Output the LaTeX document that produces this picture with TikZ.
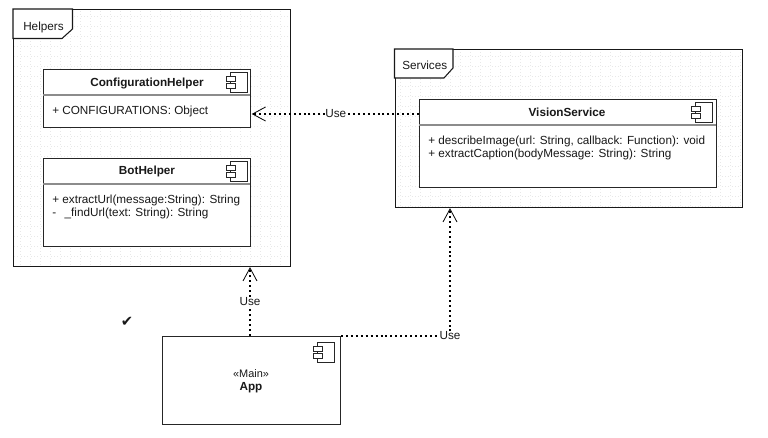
\documentclass[tikz,border=0pt]{standalone}
\usepackage{fontspec}
\setmainfont{Liberation Sans}
\newfontfamily\symfont{DejaVu Sans}
\def\px{0.75pt}
\tikzset{
  every node/.style={font=\fontsize{8.8pt}{10pt}\selectfont,text=black!90},
  pkg/.style={draw=black!90,line width=0.8pt,anchor=north west,inner sep=0pt},
  cbox/.style={draw=black!85,line width=0.8pt,fill=white,anchor=north west,inner sep=0pt},
  divider/.style={draw=black!45,line width=0.8pt},
  icon/.style={draw=black!85,line width=0.6pt,fill=white},
  title/.style={font=\fontsize{8.8pt}{10pt}\selectfont\bfseries,inner sep=0pt},
  member/.style={anchor=west,inner sep=0pt,align=left},
  useline/.style={draw=black,line width=0.85pt,dash pattern=on 1.5pt off 2.2pt},
  usetip/.style={draw=black,line width=0.6pt},
  uselabel/.style={fill=white,inner sep=0.3pt},
  tab/.style={draw=black!90,line width=0.8pt,fill=white,line join=miter},
  faintgrid/.style={draw=black!9,line width=0.5pt,dotted},
}
\newcommand{\compicon}[2]{%
  \draw[icon] (#1+4,#2) rectangle (#1+21,#2+20);
  \draw[icon] (#1,#2+4) rectangle (#1+9,#2+9);
  \draw[icon] (#1,#2+11) rectangle (#1+9,#2+16);
}
\begin{document}
\begin{tikzpicture}[x=0.75pt,y=-0.75pt]
\useasboundingbox (0,0) rectangle (768,438);
% Packages
\draw[faintgrid,step=7.5pt,shift={(0,6)}] (14,4) grid (289,259);
\node[pkg,minimum width=277*\px,minimum height=257*\px] (helpers) at (13,9) {};
\draw[tab] (13,9) -- (72.5,9) -- (72.5,29) -- (62,38.5) -- (13,38.5) -- cycle;
\node[anchor=west,inner sep=0pt] (helperslabel) at (23,27) {Helpers};

\draw[faintgrid,step=7.5pt,shift={(0,6)}] (395,44) grid (741,200);
\node[pkg,minimum width=347*\px,minimum height=158*\px] (services) at (394.5,49) {};
\draw[tab] (394.5,49) -- (453,49) -- (453,68) -- (444,78) -- (394.5,78) -- cycle;
\node[anchor=west,inner sep=0pt] (serviceslabel) at (402,65.5) {Services};

% ConfigurationHelper
\node[cbox,minimum width=207*\px,minimum height=58*\px] (config) at (43,69) {};
\draw[divider] (43,95) -- (250,95);
\node[title] (configtitle) at (147,83) {ConfigurationHelper};
\node[member] (configm) at (52,111) {+ CONFIGURATIONS: Object};
\compicon{226}{72}

% BotHelper
\node[cbox,minimum width=207*\px,minimum height=88*\px] (bot) at (43,158) {};
\draw[divider] (43,184) -- (250,184);
\node[title] (bottitle) at (147,171) {BotHelper};
\node[member] (botm) at (52,207) {+ extractUrl(message:String): String\\-\ \ \,\_findUrl(text: String): String};
\compicon{226}{161}

% VisionService
\node[cbox,minimum width=297*\px,minimum height=88*\px] (vision) at (419,99) {};
\draw[divider] (419,125) -- (716,125);
\node[title] (visiontitle) at (567,112) {VisionService};
\node[member] (visionm) at (428,148) {+ describeImage(url: String, callback: Function): void\\+ extractCaption(bodyMessage: String): String};
\compicon{691}{102}

% App
\node[cbox,minimum width=178*\px,minimum height=88*\px] (app) at (162,336) {};
\node[align=center,inner sep=0pt] (apptext) at (251,381) {{\fontsize{8.2pt}{10pt}\selectfont «Main»}\\\textbf{App}};
\compicon{313}{342}

% Check mark
\node[inner sep=0pt] (check) at (127,322) {\symfont\fontsize{11pt}{10pt}\selectfont ✔};

% Connectors
\coordinate (a1s) at (vision.north west |- 0,114);
\coordinate (a1e) at ([xshift=1.5*\px]config.north east |- 0,114);
\draw[useline] (a1s) -- node[uselabel,pos=0.5] (use1) {Use} (a1e);
\draw[usetip] ([shift={(13,-7)}]a1e) -- (a1e) -- ([shift={(13,7)}]a1e);

\coordinate (a2s) at (250,336);
\coordinate (a2e) at (250,268);
\draw[useline] (a2s) -- node[uselabel,pos=0.51] (use2) {Use} (a2e);
\draw[usetip] ([shift={(-7,13)}]a2e) -- (a2e) -- ([shift={(7,13)}]a2e);

\coordinate (a3s) at (app.north east);
\coordinate (a3m) at (450,336);
\coordinate (a3e) at (450,209);
\draw[useline] (a3s) -- (a3m) -- (a3e);
\draw[usetip] ([shift={(-7,13)}]a3e) -- (a3e) -- ([shift={(7,13)}]a3e);
\node[uselabel] (use3) at (a3m) {Use};
\end{tikzpicture}
\end{document}
